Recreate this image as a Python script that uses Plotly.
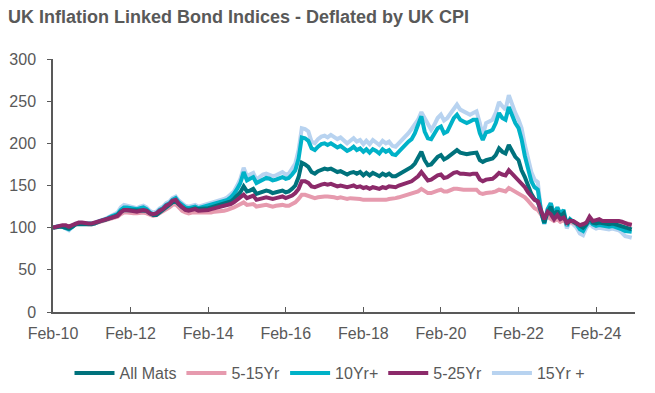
import pandas as pd
import plotly.graph_objects as go

dates = pd.date_range("2010-02-01", periods=180, freq="MS")

all_mats = [
    100, 101, 101, 101, 100, 99, 101, 104, 104, 104, 104, 103,
    104, 105, 107, 108, 109, 110, 112, 113, 115, 119, 121, 121,
    120, 120, 120, 121, 121, 120, 117, 115, 115, 118, 121, 125,
    127, 130, 131, 127, 124, 122, 121, 122, 123, 122, 122, 123,
    123, 124, 125, 126, 127, 128, 129, 131, 134, 138, 142, 149,
    143, 144, 146, 140, 141, 143, 144, 143, 141, 142, 143, 144,
    142, 143, 146, 150, 160, 177, 175, 172, 166, 164, 167, 169,
    170, 169, 170, 168, 166, 167, 165, 163, 165, 166, 164, 166,
    162, 165, 162, 165, 163, 161, 164, 162, 164, 161, 161, 163,
    166, 168, 170, 172, 176, 182, 190, 180, 174, 175, 180, 184,
    186, 181, 183, 186, 190, 192, 189, 188, 187, 188, 189, 189,
    180, 178, 180, 181, 182, 186, 194, 190, 188, 198, 190, 184,
    180, 168, 160, 150, 140, 134, 131, 118, 106, 118, 125, 114,
    120, 113, 117, 104, 109, 107, 105, 102, 100, 104, 111, 106,
    105, 106, 105, 104, 104, 105, 104, 103, 102, 100, 99, 98,
]

yr5_15 = [
    100, 101, 102, 102, 102, 100, 102, 104, 105, 105, 104, 104,
    104, 105, 106, 107, 108, 109, 110, 111, 113, 116, 118, 118,
    117, 117, 117, 118, 118, 117, 115, 114, 115, 117, 119, 122,
    124, 127, 128, 124, 120, 118, 117, 118, 118, 117, 117, 117,
    117, 118, 119, 119, 120, 120, 121, 122, 124, 126, 128, 130,
    127, 127, 128, 125, 126, 126, 127, 126, 125, 126, 127, 127,
    126, 126, 128, 130, 134, 139, 139, 138, 136, 135, 136, 137,
    137, 137, 137, 136, 135, 136, 135, 134, 135, 135, 134, 134,
    133, 133, 132, 133, 133, 132, 133, 133, 134, 134, 135, 136,
    137, 138, 139, 140, 141, 143, 146, 143, 141, 141, 143, 144,
    145, 143, 143, 145, 146, 146, 145, 145, 145, 145, 145, 145,
    141, 140, 141, 141, 142, 143, 145, 144, 143, 147, 145, 143,
    141, 139, 136, 132, 127, 123, 121, 116, 110, 113, 111, 108,
    110, 107, 109, 105, 107, 106, 104, 103, 104, 105, 110, 107,
    107, 108, 107, 107, 107, 108, 107, 107, 106, 105, 105, 104,
]

yr10_plus = [
    100, 101, 102, 101, 99, 98, 101, 104, 105, 105, 104, 104,
    104, 105, 107, 108, 109, 111, 113, 114, 116, 121, 124, 124,
    123, 122, 122, 123, 124, 122, 118, 116, 117, 121, 123, 127,
    129, 133, 135, 130, 127, 124, 123, 124, 125, 123, 124, 125,
    126, 127, 129, 130, 131, 132, 133, 136, 140, 146, 153, 166,
    156, 158, 160, 153, 155, 158, 159, 158, 156, 157, 159, 160,
    158, 159, 163, 168, 182, 207, 206, 203, 194, 192, 196, 199,
    200, 198, 200, 198, 195, 197, 194, 191, 193, 196, 192, 194,
    190, 193, 189, 193, 191, 188, 193, 190, 192, 187, 186, 190,
    195, 199, 202, 205, 212, 222, 232, 214, 206, 205, 212, 218,
    220, 212, 214, 222, 230, 234, 228, 226, 224, 226, 228, 228,
    212, 204, 213, 214, 216, 224, 236, 230, 228, 243, 232, 224,
    218, 205, 185, 168, 155, 148, 145, 120, 105, 122, 129, 116,
    124, 116, 121, 102, 110, 107, 104, 98, 96, 103, 108, 104,
    102, 103, 102, 101, 101, 102, 101, 100, 98, 96, 95, 95,
]

yr5_25 = [
    100, 101, 102, 103, 103, 101, 103, 105, 106, 106, 105, 105,
    105, 106, 107, 108, 109, 110, 111, 112, 114, 118, 121, 121,
    120, 120, 119, 120, 121, 120, 117, 116, 117, 120, 122, 126,
    128, 132, 133, 128, 124, 121, 120, 121, 122, 120, 120, 121,
    121, 122, 123, 123, 124, 125, 126, 128, 130, 133, 136, 139,
    135, 136, 138, 133, 134, 135, 136, 135, 134, 135, 136, 137,
    135, 136, 138, 141, 146, 155, 155, 153, 149, 148, 150, 151,
    152, 151, 152, 151, 149, 150, 149, 148, 149, 150, 148, 149,
    147, 148, 146, 148, 147, 146, 148, 147, 149, 148, 148, 150,
    151, 152, 154, 155, 158, 161, 166, 160, 156, 157, 160, 162,
    163, 159, 160, 163, 165, 166, 164, 164, 163, 163, 164, 164,
    157, 155, 157, 158, 158, 161, 165, 163, 162, 168, 164, 160,
    157, 153, 148, 142, 137, 133, 131, 120, 110, 119, 116, 110,
    115, 110, 112, 106, 108, 108, 105, 103, 104, 106, 113, 108,
    109, 110, 108, 108, 109, 109, 108, 108, 107, 105, 104, 103,
]

yr15_plus = [
    100, 101, 102, 101, 99, 97, 101, 105, 105, 105, 104, 104,
    104, 106, 108, 109, 110, 112, 114, 115, 118, 124, 127, 126,
    125, 124, 123, 125, 126, 124, 120, 118, 119, 123, 125, 129,
    131, 135, 137, 132, 129, 126, 125, 126, 127, 125, 126, 127,
    128, 129, 131, 132, 133, 134, 136, 139, 143, 150, 158, 171,
    161, 163, 165, 157, 160, 163, 164, 163, 161, 162, 164, 166,
    163, 164, 170, 176, 192, 218, 217, 214, 202, 200, 205, 208,
    209, 207, 210, 208, 205, 207, 204, 200, 203, 206, 202, 204,
    199, 203, 199, 204, 201, 198, 203, 200, 202, 197, 196, 200,
    203, 207, 212, 217, 222, 228, 237, 230, 222, 216, 222, 230,
    234, 227, 230, 236, 242, 246, 240, 238, 236, 234, 236, 238,
    224, 209, 224, 226, 228, 236, 249, 244, 240, 257, 245, 236,
    228, 218, 198, 180, 166, 157, 154, 118, 104, 121, 129, 114,
    124, 115, 120, 99, 108, 104, 100, 93, 91, 100, 105, 101,
    99, 100, 99, 98, 98, 99, 98, 97, 94, 90, 89, 88,
]

# (name, values, colour, legend rank) in drawing order
series = [
    ("15Yr +", yr15_plus, "#B8D3F0", 5),
    ("10Yr+", yr10_plus, "#00B2C8", 3),
    ("5-15Yr", yr5_15, "#E69AAE", 2),
    ("All Mats", all_mats, "#00727C", 1),
    ("5-25Yr", yr5_25, "#8C2A6A", 4),
]

fig = go.Figure()
for name, vals, col, rank in series:
    fig.add_trace(go.Scatter(
        x=dates, y=vals, name=name, mode="lines",
        line=dict(color=col, width=4),
        legendrank=rank,
    ))

grey = "#595959"
W, H = 647, 385  # page adds an 8px body margin
fig.update_layout(
    width=W, height=H,
    paper_bgcolor="white", plot_bgcolor="white",
    margin=dict(l=45, r=20, t=51, b=81, autoexpand=False),
    font=dict(family="Liberation Sans, Arial, sans-serif", size=16, color=grey),
    title=dict(
        text="<b>UK Inflation Linked Bond Indices - Deflated by UK CPI</b>",
        x=0, xanchor="left", xref="container",
        y=1 - 9 / H, yanchor="middle", yref="container",
        font=dict(size=18, color=grey),
        pad=dict(l=0, t=0, b=0, r=0),
    ),
    showlegend=True,
    legend=dict(
        orientation="h", x=322 / W, xanchor="center", xref="container",
        y=1 - 365 / H, yanchor="middle", yref="container",
        font=dict(size=16, color=grey),
        itemwidth=40, tracegroupgap=0,
    ),
    xaxis=dict(
        type="date",
        range=["2010-02-01", "2025-02-01"],
        tick0="2010-02-01", dtick="M24", tickformat="%b-%y",
        ticks="inside", ticklen=5, tickcolor=grey,
        showline=True, linecolor=grey, linewidth=1.5,
        showgrid=False, zeroline=False,
        ticklabelstandoff=6,
        tickfont=dict(size=16, color=grey),
    ),
    yaxis=dict(
        range=[0, 300], dtick=50,
        ticks="outside", ticklen=4, tickcolor=grey,
        showline=True, linecolor=grey, linewidth=1.5,
        showgrid=False, zeroline=False,
        ticklabelstandoff=8,
        tickfont=dict(size=16, color=grey),
    ),
)

fig.write_html("out.html")
